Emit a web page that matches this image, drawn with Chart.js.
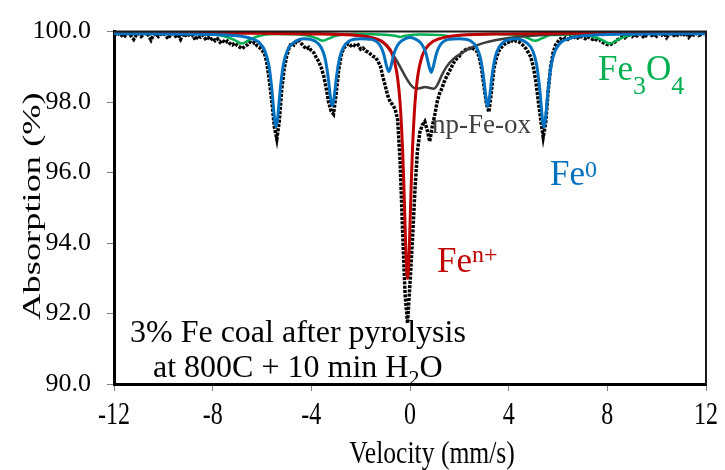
<!DOCTYPE html>
<html><head><meta charset="utf-8">
<script src="https://cdn.jsdelivr.net/npm/chart.js@4.4.0/dist/chart.umd.min.js"></script>
<style>html,body{margin:0;padding:0;background:#fff;}#wrap{width:725px;height:470px;}</style>
</head><body><div id="wrap"><canvas id="c" width="725" height="470"></canvas></div>
<script>
// ---- Measured spectrum (velocity in mm/s, absorption in %) ----
const velocity = [
-12.0,-11.9,-11.8,-11.7,-11.6,-11.5,-11.4,-11.3,-11.2,-11.1,
-11.0,-10.9,-10.8,-10.7,-10.6,-10.5,-10.4,-10.3,-10.2,-10.1,
-10.0,-9.9,-9.8,-9.7,-9.6,-9.5,-9.4,-9.3,-9.2,-9.1,
-9.0,-8.9,-8.8,-8.7,-8.6,-8.5,-8.4,-8.3,-8.2,-8.1,
-8.0,-7.9,-7.8,-7.7,-7.6,-7.5,-7.4,-7.3,-7.2,-7.1,
-7.0,-6.9,-6.8,-6.7,-6.6,-6.5,-6.4,-6.3,-6.2,-6.1,
-6.0,-5.9,-5.8,-5.7,-5.6,-5.5,-5.4,-5.3,-5.2,-5.1,
-5.0,-4.9,-4.8,-4.7,-4.6,-4.5,-4.4,-4.3,-4.2,-4.1,
-4.0,-3.9,-3.8,-3.7,-3.6,-3.5,-3.4,-3.3,-3.2,-3.1,
-3.0,-2.9,-2.8,-2.7,-2.6,-2.5,-2.4,-2.3,-2.2,-2.1,
-2.0,-1.9,-1.8,-1.7,-1.6,-1.5,-1.4,-1.3,-1.2,-1.1,
-1.0,-0.9,-0.8,-0.7,-0.6,-0.5,-0.4,-0.3,-0.2,-0.1,
0.0,0.1,0.2,0.3,0.4,0.5,0.6,0.7,0.8,0.9,
1.0,1.1,1.2,1.3,1.4,1.5,1.6,1.7,1.8,1.9,
2.0,2.1,2.2,2.3,2.4,2.5,2.6,2.7,2.8,2.9,
3.0,3.1,3.2,3.3,3.4,3.5,3.6,3.7,3.8,3.9,
4.0,4.1,4.2,4.3,4.4,4.5,4.6,4.7,4.8,4.9,
5.0,5.1,5.2,5.3,5.4,5.5,5.6,5.7,5.8,5.9,
6.0,6.1,6.2,6.3,6.4,6.5,6.6,6.7,6.8,6.9,
7.0,7.1,7.2,7.3,7.4,7.5,7.6,7.7,7.8,7.9,
8.0,8.1,8.2,8.3,8.4,8.5,8.6,8.7,8.8,8.9,
9.0,9.1,9.2,9.3,9.4,9.5,9.6,9.7,9.8,9.9,
10.0,10.1,10.2,10.3,10.4,10.5,10.6,10.7,10.8,10.9,
11.0,11.1,11.2,11.3,11.4,11.5,11.6,11.7,11.8,11.9,
12.0];
const absorption = [
99.93,99.88,99.95,99.90,99.84,99.92,99.96,99.87,99.78,99.90,
99.95,99.86,99.92,99.97,99.89,99.76,99.91,99.94,99.86,99.93,
99.96,99.88,99.80,99.92,99.95,99.87,99.91,99.78,99.93,99.89,
99.94,99.86,99.90,99.76,99.88,99.84,99.90,99.80,99.85,99.76,
99.82,99.74,99.79,99.70,99.76,99.68,99.73,99.66,99.62,99.68,
99.60,99.56,99.52,99.58,99.62,99.70,99.66,99.69,99.60,99.55,
99.48,99.38,99.10,98.60,98.00,97.30,96.95,97.45,98.35,98.95,
99.30,99.55,99.68,99.62,99.72,99.75,99.66,99.58,99.50,99.55,
99.46,99.40,99.26,99.15,98.98,98.75,98.40,98.00,97.75,97.66,
98.20,98.85,99.30,99.52,99.60,99.66,99.60,99.64,99.58,99.62,
99.50,99.53,99.45,99.42,99.36,99.30,99.27,99.16,99.02,98.72,
98.45,98.18,98.00,97.92,97.80,97.50,96.30,94.35,92.55,91.72,
92.87,94.10,95.50,96.60,97.15,97.35,97.45,97.20,96.88,97.30,
97.62,98.00,98.25,98.40,98.60,98.75,98.88,99.02,99.15,99.24,
99.30,99.40,99.46,99.50,99.52,99.55,99.50,99.45,99.30,98.95,
98.45,97.95,97.72,98.30,98.95,99.25,99.45,99.55,99.62,99.68,
99.70,99.75,99.70,99.74,99.72,99.66,99.60,99.52,99.40,99.28,
99.00,98.60,98.04,97.50,97.00,97.40,98.30,99.00,99.40,99.62,
99.72,99.80,99.76,99.82,99.78,99.85,99.80,99.86,99.82,99.88,
99.84,99.80,99.86,99.82,99.78,99.80,99.74,99.76,99.70,99.66,
99.63,99.62,99.66,99.70,99.76,99.80,99.85,99.82,99.88,99.90,
99.86,99.92,99.88,99.94,99.90,99.82,99.93,99.96,99.89,99.92,
99.87,99.94,99.90,99.96,99.83,99.92,99.95,99.89,99.93,99.87,
99.94,99.91,99.96,99.84,99.93,99.90,99.95,99.89,99.92,99.96,
99.90];

// ---- Fe0 sextet fit (blue) ----
const fe0Vel = [-12,-8,-7,-6.43,-6.13,-5.88,-5.73,-5.63,-5.58,-5.53,-5.48,-5.43,-5.38,-5.33,-5.28,-5.23,-5.13,-4.98,-4.73,-4.3,
-3.85,-3.6,-3.45,-3.35,-3.3,-3.25,-3.2,-3.15,-3.1,-3.05,-3.0,-2.95,-2.85,-2.7,-2.45,-2.0,-1.56,-1.31,-1.16,-1.06,
-1.01,-0.96,-0.91,-0.86,-0.81,-0.76,-0.71,-0.66,-0.56,-0.41,-0.16,0,
0.16,0.41,0.56,0.66,0.71,0.76,0.81,0.86,0.91,0.96,1.01,1.06,1.16,1.31,1.56,2.0,2.45,2.7,2.85,2.95,
3.0,3.05,3.1,3.15,3.2,3.25,3.3,3.35,3.45,3.6,3.85,4.3,4.73,4.98,5.13,5.23,5.28,5.33,5.38,5.43,
5.48,5.53,5.58,5.63,5.73,5.88,6.13,6.43,7,8,12];
const fe0Abs = [99.94,99.92,99.88,99.80,99.70,99.45,99.07,98.56,98.22,97.80,97.45,97.30,97.45,97.80,98.22,98.56,99.07,99.45,99.68,99.80,
99.73,99.55,99.26,98.87,98.60,98.28,98.02,97.90,98.02,98.28,98.60,98.87,99.26,99.55,99.74,99.80,99.78,99.69,99.54,99.35,
99.20,99.05,98.93,98.86,98.93,99.05,99.20,99.35,99.54,99.70,99.81,99.83,
99.81,99.70,99.54,99.35,99.20,99.05,98.93,98.84,98.93,99.05,99.20,99.35,99.54,99.69,99.78,99.80,99.74,99.55,99.26,98.87,
98.60,98.28,98.02,97.88,98.02,98.28,98.60,98.87,99.26,99.55,99.73,99.80,99.68,99.45,99.07,98.56,98.22,97.80,97.45,97.28,
97.45,97.80,98.22,98.56,99.07,99.45,99.70,99.80,99.88,99.92,99.94];

// ---- Fe n+ singlet fit (red) ----
const fenVel = [-12,-6,-3.6,-2.1,-1.4,-1.0,-0.7,-0.5,-0.4,-0.3,-0.25,-0.2,-0.15,-0.1,-0.05,0,0.05,0.1,0.2,0.3,0.5,0.8,1.2,1.9,3.4,6,12];
const fenAbs = [99.96,99.95,99.93,99.89,99.80,99.65,99.32,98.67,97.96,96.65,95.67,94.50,93.45,93.00,93.45,94.50,95.67,96.65,97.96,98.67,99.32,99.65,99.80,99.89,99.93,99.95,99.96];

// ---- np-Fe-ox doublet fit (dark grey) ----
const npVel = [-12,-6,-3,-2,-1.5,-1.2,-0.9,-0.65,-0.4,-0.15,0.05,0.25,0.45,0.6,0.8,0.97,1.12,1.3,1.5,1.75,2.05,2.5,3.0,3.5,4.5,6,8,12];
const npAbs = [99.97,99.96,99.93,99.88,99.82,99.74,99.55,99.30,99.00,98.68,98.47,98.38,98.40,98.43,98.40,98.38,98.50,98.78,99.02,99.22,99.37,99.55,99.68,99.76,99.86,99.92,99.95,99.96];

// ---- Fe3O4 fit (green) ----
const fe3o4Vel = [-12,-8.5,-7.8,-7.4,-7.1,-6.82,-6.55,-6.2,-5.5,-4.5,-4.0,-3.75,-3.53,-3.3,-3.0,-2.2,-1.0,-0.6,-0.4,-0.2,0.4,1.3,1.7,2.1,3.5,4.5,4.8,5.07,5.35,5.7,6.8,7.4,7.8,8.1,8.4,8.8,9.5,12];
const fe3o4Abs = [99.97,99.95,99.90,99.84,99.76,99.66,99.75,99.86,99.93,99.92,99.86,99.80,99.74,99.80,99.88,99.93,99.91,99.88,99.85,99.88,99.92,99.90,99.87,99.90,99.93,99.88,99.81,99.74,99.81,99.90,99.92,99.86,99.76,99.66,99.76,99.88,99.95,99.97];

// ---- Axis ----
const xTicks = [-12,-8,-4,0,4,8,12];
const yTicks = [90,92,94,96,98,100];

const SERIF = "'Liberation Serif','Times New Roman',serif";
const pts = (xs, ys) => xs.map((x, i) => ({x: x, y: ys[i]}));

function rich(ctx, parts, x, y, color) {
  let cx = x;
  ctx.fillStyle = color;
  ctx.textAlign = 'left';
  ctx.textBaseline = 'alphabetic';
  parts.forEach(p => {
    ctx.font = p.size + 'px ' + SERIF;
    ctx.fillText(p.t, cx, y + (p.dy || 0));
    cx += ctx.measureText(p.t).width;
  });
}
function scaledText(ctx, s, x, y, size, sx, align, color, rot) {
  ctx.save();
  ctx.translate(x, y);
  if (rot) ctx.rotate(rot);
  ctx.scale(sx, 1);
  ctx.font = size + 'px ' + SERIF;
  ctx.fillStyle = color;
  ctx.textAlign = align;
  ctx.textBaseline = 'alphabetic';
  ctx.fillText(s, 0, 0);
  ctx.restore();
}

const decor = {
  id: 'decor',
  afterDatasetsDraw(chart) {
    const ctx = chart.ctx, a = chart.chartArea, xs = chart.scales.x;
    ctx.save();
    ctx.strokeStyle = '#1a1a1a';
    ctx.lineWidth = 2;
    ctx.beginPath();
    ctx.moveTo(a.left, a.top);
    ctx.lineTo(a.right, a.top);
    ctx.lineTo(a.right, a.bottom);
    ctx.stroke();
    xs.ticks.forEach(t => {
      scaledText(ctx, String(t.value), xs.getPixelForValue(t.value), 424, 32, 0.75, 'center', '#000');
    });
    scaledText(ctx, 'Velocity (mm/s)', 432, 463, 32, 0.8, 'center', '#000');
    scaledText(ctx, 'Absorption (%)', 40, 206, 26, 1.4, 'center', '#000', -Math.PI / 2);
    rich(ctx, [{t:'Fe',size:35},{t:'3',size:26,dy:14},{t:'O',size:35},{t:'4',size:26,dy:14}], 598, 80, '#00B050');
    rich(ctx, [{t:'Fe',size:35},{t:'0',size:24,dy:-8}], 550, 185, '#0070C0');
    rich(ctx, [{t:'Fe',size:35},{t:'n+',size:24,dy:-10}], 437, 272, '#C00000');
    rich(ctx, [{t:'np-Fe-ox',size:27}], 432, 133, '#404040');
    rich(ctx, [{t:'3% Fe coal after pyrolysis',size:32}], 130, 342, '#000');
    rich(ctx, [{t:'at 800C + 10 min H',size:32},{t:'2',size:22,dy:8},{t:'O',size:32}], 153, 377, '#000');
    ctx.restore();
  }
};

const line = (label, xs, ys, color, width, order) => ({
  label: label, data: pts(xs, ys), showLine: true, borderColor: color, backgroundColor: color,
  borderWidth: width, pointRadius: 0, cubicInterpolationMode: 'monotone', order: order
});

new Chart(document.getElementById('c'), {
  type: 'scatter',
  data: {
    datasets: [
      line('Fe0', fe0Vel, fe0Abs, '#0070C0', 3, 1),
      line('Fe n+', fenVel, fenAbs, '#C00000', 3, 2),
      line('np-Fe-ox', npVel, npAbs, '#3C3C3C', 2.5, 3),
      line('Fe3O4', fe3o4Vel, fe3o4Abs, '#00B050', 2.5, 4),
      { label: 'Data', data: pts(velocity, absorption), showLine: true, borderColor: '#000', backgroundColor: '#000',
        borderWidth: 3.5, borderDash: [3, 1.3], pointRadius: 0, tension: 0, order: 5 }
    ]
  },
  options: {
    responsive: false, animation: false, devicePixelRatio: 1,
    layout: { padding: { top: 20, right: 19, left: 0, bottom: 0 } },
    plugins: { legend: { display: false }, tooltip: { enabled: false } },
    scales: {
      x: {
        type: 'linear', min: xTicks[0], max: xTicks[xTicks.length - 1],
        afterBuildTicks: s => { s.ticks = xTicks.map(v => ({ value: v })); },
        ticks: { display: false },
        grid: { drawOnChartArea: false, drawTicks: true, tickLength: 7, color: '#808080', lineWidth: 1 },
        border: { display: true, color: '#000', width: 3 },
        afterFit: s => { s.height = 86; }
      },
      y: {
        min: yTicks[0], max: yTicks[yTicks.length - 1],
        afterBuildTicks: s => { s.ticks = yTicks.map(v => ({ value: v })); },
        ticks: { callback: v => Number(v).toFixed(1), font: { family: SERIF, size: 26 }, color: '#000', padding: 16 },
        grid: { drawOnChartArea: false, drawTicks: true, tickLength: 7, color: '#808080', lineWidth: 1 },
        border: { display: true, color: '#000', width: 3 },
        afterFit: s => { s.width = 114; }
      }
    }
  },
  plugins: [decor]
});
</script>
</body></html>
